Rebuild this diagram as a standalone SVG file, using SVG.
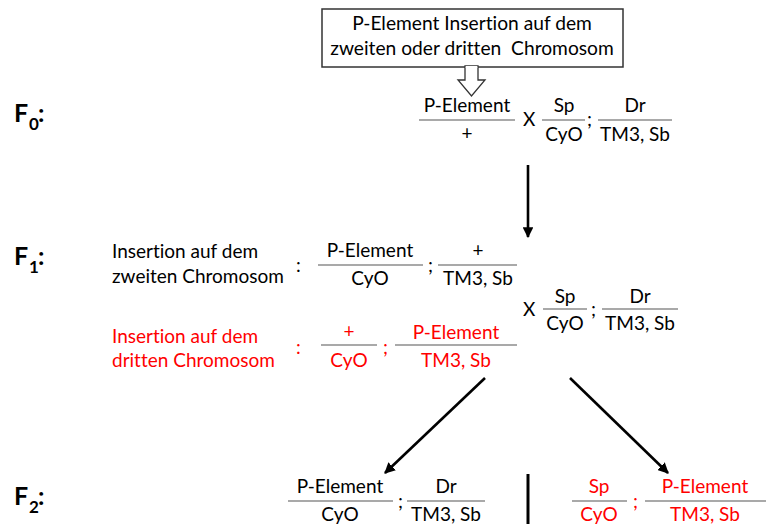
<svg xmlns="http://www.w3.org/2000/svg" width="766" height="524" viewBox="0 0 766 524">
<style>
text{font-family:Lato,"Liberation Sans",sans-serif;font-size:19px;fill:#000;font-variant-ligatures:none}
.c{text-anchor:middle}
.r{fill:#ff0000}
.fl{stroke:#8c8c8c;stroke-width:1.5;fill:none}
.gen{font-weight:bold;font-size:25px}
.sub{font-weight:bold;font-size:17px}
.ar{stroke:#000;stroke-width:2.6;fill:none}
</style>
<defs>
<marker id="ah" viewBox="0 0 10 10" refX="9" refY="5" markerWidth="4.2" markerHeight="4.2" orient="auto" markerUnits="strokeWidth">
<path d="M0,0 L10,5 L0,10 z" fill="#000"/>
</marker>
</defs>
<rect width="766" height="524" fill="#fff"/>

<g id="source">
<rect x="322" y="9" width="301" height="58" fill="#fff" stroke="#333" stroke-width="1.5"/>
<text class="c" x="472" y="30" style="font-size:19.2px">P-Element Insertion auf dem</text>
<text class="c" x="472" y="55" style="font-size:19.2px;white-space:pre" xml:space="preserve">zweiten oder dritten  Chromosom</text>
</g>

<g id="labels">
<text class="gen" x="14" y="122">F</text><text class="sub" x="29" y="130">0</text><text class="gen" x="38" y="122">:</text>
<text class="gen" x="14" y="265">F</text><text class="sub" x="29" y="273">1</text><text class="gen" x="38" y="265">:</text>
<text class="gen" x="14" y="505">F</text><text class="sub" x="29" y="513">2</text><text class="gen" x="38" y="505">:</text>
</g>

<g id="f0-cross">
<text class="c" x="467" y="112">P-Element</text>
<line class="fl" x1="419" y1="120" x2="515" y2="120"/>
<text class="c" x="467" y="140">+</text>
<text x="523" y="126">X</text>
<text class="c" x="564" y="112">Sp</text>
<line class="fl" x1="542" y1="120" x2="585" y2="120"/>
<text class="c" x="564" y="141">CyO</text>
<text x="587" y="126">;</text>
<text class="c" x="635" y="112">Dr</text>
<line class="fl" x1="598" y1="120" x2="672" y2="120"/>
<text class="c" x="635" y="141">TM3, Sb</text>
</g>

<g id="f1-second">
<text x="112" y="258">Insertion auf dem</text>
<text x="112" y="283">zweiten Chromosom</text>
<text x="296" y="272">:</text>
<text class="c" x="370" y="257">P-Element</text>
<line class="fl" x1="318" y1="265" x2="423" y2="265"/>
<text class="c" x="370" y="285">CyO</text>
<text x="428" y="272">;</text>
<text class="c" x="478" y="257">+</text>
<line class="fl" x1="438" y1="265" x2="517" y2="265"/>
<text class="c" x="478" y="285">TM3, Sb</text>
</g>

<g id="f1-third">
<text class="r" x="112" y="343">Insertion auf dem</text>
<text class="r" x="112" y="367">dritten Chromosom</text>
<text class="r" x="296" y="354">:</text>
<text class="c r" x="349" y="338">+</text>
<line class="fl" x1="321" y1="345" x2="377" y2="345"/>
<text class="c r" x="349" y="367">CyO</text>
<text class="r" x="383" y="354">;</text>
<text class="c r" x="456" y="339">P-Element</text>
<line class="fl" x1="395" y1="345" x2="517" y2="345"/>
<text class="c r" x="456" y="367">TM3, Sb</text>
</g>

<g id="f1-partner">
<text x="523" y="316">X</text>
<text class="c" x="565" y="303">Sp</text>
<line class="fl" x1="543" y1="309" x2="587" y2="309"/>
<text class="c" x="565" y="330">CyO</text>
<text x="591" y="316">;</text>
<text class="c" x="640" y="303">Dr</text>
<line class="fl" x1="602" y1="309" x2="678" y2="309"/>
<text class="c" x="640" y="330">TM3, Sb</text>
</g>

<g id="f2-left">
<text class="c" x="340" y="493">P-Element</text>
<line class="fl" x1="288" y1="501" x2="393" y2="501"/>
<text class="c" x="340" y="521">CyO</text>
<text x="398" y="508">;</text>
<text class="c" x="446" y="493">Dr</text>
<line class="fl" x1="407" y1="501" x2="485" y2="501"/>
<text class="c" x="446" y="521">TM3, Sb</text>
</g>

<g id="f2-right">
<text class="c r" x="599" y="493">Sp</text>
<line class="fl" x1="572" y1="501" x2="627" y2="501"/>
<text class="c r" x="599" y="521">CyO</text>
<text class="r" x="633" y="508">;</text>
<text class="c r" x="705" y="493">P-Element</text>
<line class="fl" x1="645" y1="501" x2="766" y2="501"/>
<text class="c r" x="705" y="521">TM3, Sb</text>
</g>

<g id="connectors">
<polygon points="465,66 478,66 478,80 485,80 471.5,96 458,80 465,80" fill="#fff" stroke="#333" stroke-width="1.3" stroke-linejoin="miter"/>
<line x1="465.7" y1="67" x2="477.3" y2="67" stroke="#fff" stroke-width="2"/>
<line class="ar" x1="528" y1="165" x2="528" y2="237" marker-end="url(#ah)"/>
<line class="ar" x1="485" y1="378" x2="385" y2="473" marker-end="url(#ah)"/>
<line class="ar" x1="570" y1="378" x2="668" y2="473" marker-end="url(#ah)"/>
<line x1="528" y1="474" x2="528" y2="524" stroke="#000" stroke-width="3"/>
</g>
</svg>
